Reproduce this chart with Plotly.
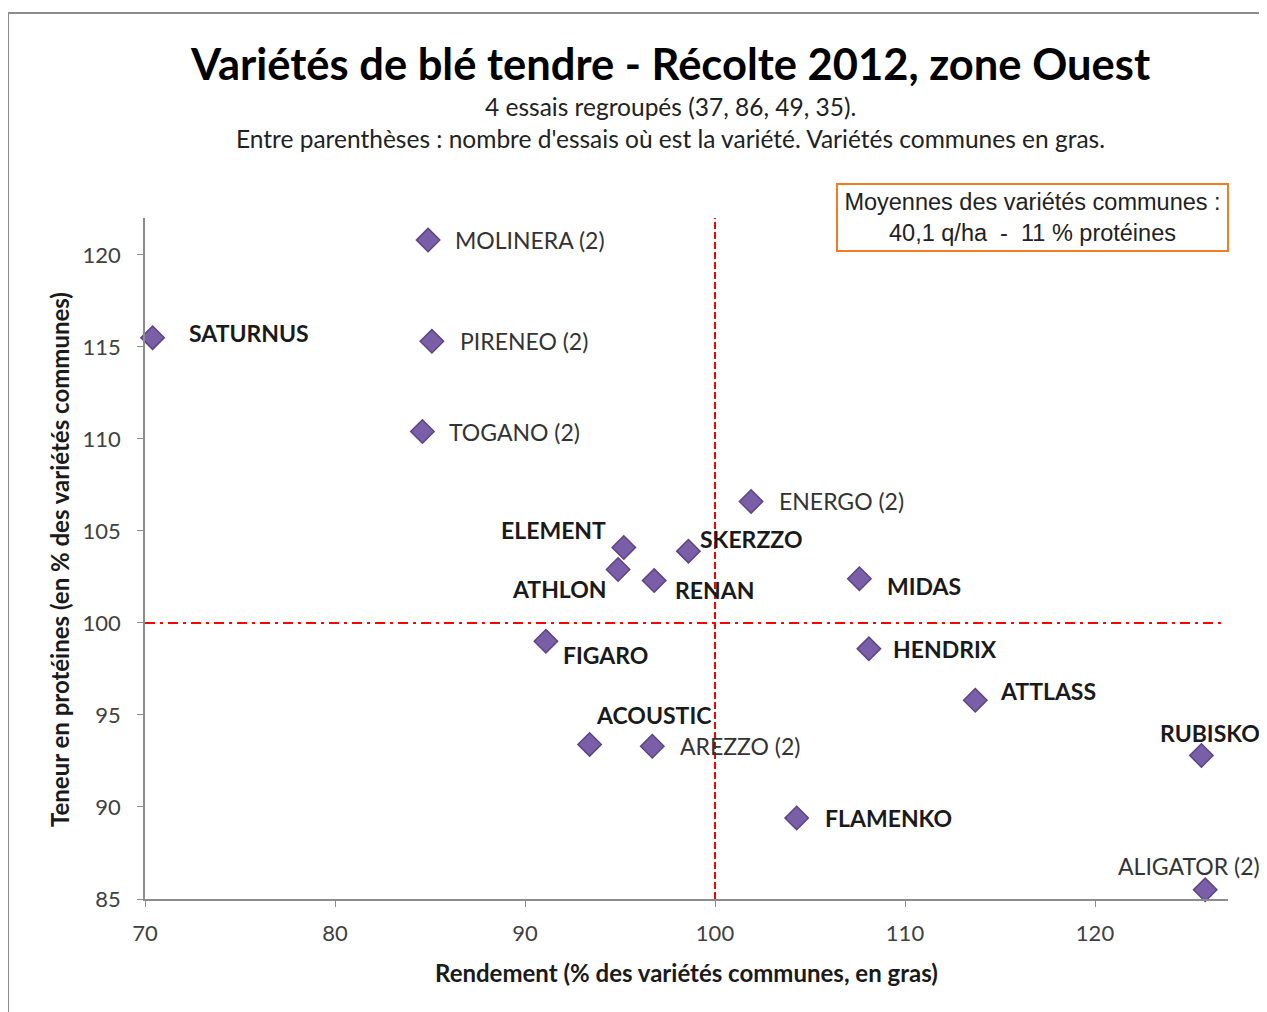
import plotly.graph_objects as go

# --- data -------------------------------------------------------------
varietes = [
    "SATURNUS", "MOLINERA (2)", "PIRENEO (2)", "TOGANO (2)", "ENERGO (2)",
    "ELEMENT", "SKERZZO", "ATHLON", "RENAN", "MIDAS", "FIGARO", "HENDRIX",
    "ATTLASS", "ACOUSTIC", "AREZZO (2)", "RUBISKO", "FLAMENKO", "ALIGATOR (2)",
]
rendement = [
    70.4, 84.9, 85.1, 84.6, 101.9,
    95.2, 98.6, 94.9, 96.8, 107.6, 91.1, 108.1,
    113.7, 93.4, 96.7, 125.6, 104.3, 125.8,
]
proteines = [
    115.5, 120.8, 115.3, 110.4, 106.6,
    104.1, 103.9, 102.9, 102.3, 102.4, 99.0, 98.6,
    95.8, 93.4, 93.3, 92.8, 89.4, 85.5,
]
communes = [
    True, False, False, False, False,
    True, True, True, True, True, True, True,
    True, True, False, True, True, False,
]

# label placement (xanchor, xshift, yshift) in px, same order as varietes
label_pos = [
    ("left", 34, 5), ("left", 25, 0), ("left", 26, 0), ("left", 25, 0),
    ("left", 26, 0), ("right", -16, 17), ("left", 10, 12), ("right", -9, -19),
    ("left", 19, -9), ("left", 26, -7), ("left", 15, -14), ("left", 22, 0),
    ("left", 23, 9), ("left", 4, 29), ("left", 26, 0), ("center", 9, 22),
    ("left", 26, 0), ("center", -16, 24),
]

# --- layout geometry (page pixels; the page body adds an 8px margin) --
OFF = 8
W, H = 1267 - OFF, 1012 - OFF
L, T = 145 - OFF, 218 - OFF
R = 1267 - 1228
B = 1012 - 899
PW, PH = W - L - R, H - T - B


def px(x):
    return (x - OFF - L) / PW


def py(y):
    return (T + PH - (y - OFF)) / PH


FONT = "Lato, 'Open Sans', sans-serif"
PURPLE = "#7A5EA8"
PURPLE_DARK = "#5B4585"
RED = "#FF0000"

fig = go.Figure()

fig.add_trace(
    go.Scatter(
        x=rendement,
        y=proteines,
        mode="markers",
        marker=dict(symbol="diamond", size=18, color=PURPLE,
                    line=dict(width=1.5, color=PURPLE_DARK)),
        hovertext=varietes,
        hoverinfo="text+x+y",
        showlegend=False,
        cliponaxis=False,
    )
)

# reference lines at 100 %
fig.add_shape(type="line", xref="x", yref="paper", x0=100, x1=100, y0=0, y1=1,
              line=dict(color=RED, width=2, dash="7px,3px"), layer="below")
fig.add_shape(type="line", xref="paper", yref="y", x0=0, x1=0.995, y0=100, y1=100,
              line=dict(color=RED, width=2, dash="10px,5px,3px,5px"), layer="below")

# point labels
for name, x, y, bold, (anc, xs, ys) in zip(varietes, rendement, proteines, communes, label_pos):
    fig.add_annotation(
        x=x, y=y, xref="x", yref="y",
        text=f"<b>{name}</b>" if bold else name,
        showarrow=False, xanchor=anc, yanchor="middle",
        xshift=xs, yshift=ys,
        font=dict(family=FONT, size=23, color="#1a1a1a" if bold else "#333333"),
    )

# titles
fig.add_annotation(
    x=px(670), y=py(63), xref="paper", yref="paper", showarrow=False,
    text="<b>Variétés de blé tendre - Récolte 2012, zone Ouest</b>",
    font=dict(family=FONT, size=43.5, color="#000000"),
    xanchor="center", yanchor="middle",
)
fig.add_annotation(
    x=px(670), y=py(106), xref="paper", yref="paper", showarrow=False,
    text="4 essais regroupés (37, 86, 49, 35).",
    font=dict(family=FONT, size=24.5, color="#222222"),
    xanchor="center", yanchor="middle",
)
fig.add_annotation(
    x=px(670), y=py(138), xref="paper", yref="paper", showarrow=False,
    text="Entre parenthèses : nombre d'essais où est la variété. Variétés communes en gras.",
    font=dict(family=FONT, size=24.5, color="#222222"),
    xanchor="center", yanchor="middle",
)

# mean box
fig.add_annotation(
    x=px(1032), y=py(217), xref="paper", yref="paper", showarrow=False,
    text="Moyennes des variétés communes :<br>40,1 q/ha  -  11 % protéines",
    font=dict(family="'Liberation Sans', Arial, sans-serif", size=23.5, color="#222222"),
    align="center", xanchor="center", yanchor="middle", width=387, height=63,
    bordercolor="#F47B20", borderwidth=2, borderpad=1, bgcolor="white",
)

# axis titles
fig.add_annotation(
    x=px(686), y=py(972), xref="paper", yref="paper", showarrow=False,
    text="<b>Rendement (% des variétés communes, en gras)</b>",
    font=dict(family=FONT, size=24, color="#1a1a1a"),
    xanchor="center", yanchor="middle",
)
fig.add_annotation(
    x=px(59), y=py(560), xref="paper", yref="paper", showarrow=False,
    text="<b>Teneur en protéines (en % des variétés communes)</b>",
    textangle=-90, font=dict(family=FONT, size=24, color="#1a1a1a"),
    xanchor="center", yanchor="middle",
)

# outer chart frame
fig.add_shape(type="rect", xref="paper", yref="paper",
              x0=px(8), x1=px(1275), y0=py(1020), y1=py(13),
              line=dict(color="#8c8c8c", width=2))

axis_common = dict(
    showgrid=False, zeroline=False, showline=True, linecolor="#8c8c8c",
    linewidth=1.5, ticks="outside", ticklen=6, tickcolor="#8c8c8c",
    tickfont=dict(family=FONT, size=22, color="#404040"),
)
fig.update_xaxes(range=[70, 127], tick0=70, dtick=10, ticklabelstandoff=8, **axis_common)
fig.update_yaxes(range=[85, 122], tick0=85, dtick=5, ticklabelstandoff=12, **axis_common)

fig.update_layout(
    width=W, height=H,
    margin=dict(l=L, r=R, t=T, b=B),
    plot_bgcolor="white", paper_bgcolor="white",
    showlegend=False,
)

fig.write_html("out.html")
